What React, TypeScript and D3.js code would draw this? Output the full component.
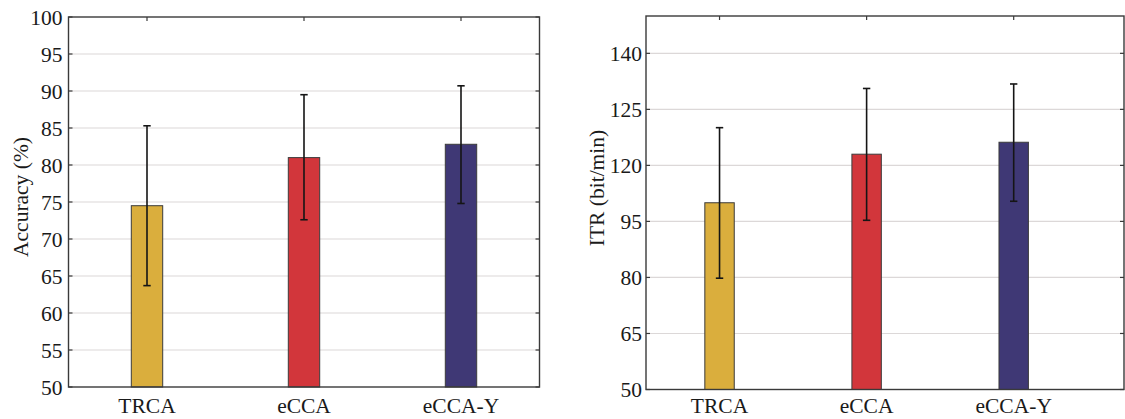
import React, { useEffect, useRef } from 'react';
import * as d3 from 'd3';

const categories = ['TRCA', 'eCCA', 'eCCA-Y'];
const barColors = ['#DAAE3D', '#D2363B', '#3F3875'];

// left panel: accuracy (%)
const accMean = [74.5, 81.0, 82.8];
const accUpper = [85.3, 89.5, 90.7];
const accLower = [63.7, 72.6, 74.8];
const accTicks = [50, 55, 60, 65, 70, 75, 80, 85, 90, 95, 100];
const accTickLabels = ['50', '55', '60', '65', '70', '75', '80', '85', '90', '95', '100'];

// right panel: ITR (bit/min) -- tick labels kept as printed in the figure
const itrMean = [100.0, 113.0, 116.2];
const itrUpper = [120.1, 130.6, 131.8];
const itrLower = [79.8, 95.3, 100.4];
const itrTicks = [50, 65, 80, 95, 110, 125, 140];
const itrTickLabels = ['50', '65', '80', '95', '120', '125', '140'];

const W = 1125;
const H = 419;
const FONT = '"Liberation Serif", "DejaVu Serif", serif';
const AXIS = '#3a3a3a';
const GRID = '#dcd8d8';

interface Panel {
  left: number;
  right: number;
  top: number;
  bottom: number;
  xMax: number;
  yDomain: [number, number];
  ticks: number[];
  tickLabels: string[];
  mean: number[];
  upper: number[];
  lower: number[];
  label: string;
  labelX: number;
  labelY: number;
  tickGap: number;
}

const panels: Panel[] = [
  {
    left: 68.5,
    right: 539.5,
    top: 17,
    bottom: 387,
    xMax: 3.5,
    yDomain: [50, 100],
    ticks: accTicks,
    tickLabels: accTickLabels,
    mean: accMean,
    upper: accUpper,
    lower: accLower,
    label: 'Accuracy (%)',
    labelX: 20,
    labelY: 197,
    tickGap: 6,
  },
  {
    left: 646,
    right: 1124,
    top: 16,
    bottom: 389.5,
    xMax: 3.75,
    yDomain: [50, 150],
    ticks: itrTicks,
    tickLabels: itrTickLabels,
    mean: itrMean,
    upper: itrUpper,
    lower: itrLower,
    label: 'ITR (bit/min)',
    labelX: 596,
    labelY: 188,
    tickGap: 4,
  },
];

const drawPanel = (svg: d3.Selection<SVGSVGElement, unknown, null, undefined>, p: Panel) => {
  const x = d3.scaleLinear().domain([0.5, p.xMax]).range([p.left, p.right]);
  const y = d3.scaleLinear().domain(p.yDomain).range([p.bottom, p.top]);
  const g = svg.append('g');
  const idx = categories.map((_, i) => i);

  // grid
  g.append('g')
    .selectAll('line')
    .data(p.ticks.filter((t) => t > p.yDomain[0] && t < p.yDomain[1]))
    .join('line')
    .attr('x1', p.left)
    .attr('x2', p.right)
    .attr('y1', (d) => y(d))
    .attr('y2', (d) => y(d))
    .attr('stroke', GRID)
    .attr('stroke-width', 1.2);

  // bars
  const bw = x(1.2) - x(1);
  g.append('g')
    .selectAll('rect')
    .data(idx)
    .join('rect')
    .attr('x', (i) => x(i + 1) - bw / 2)
    .attr('y', (i) => y(p.mean[i]))
    .attr('width', bw)
    .attr('height', (i) => y(p.yDomain[0]) - y(p.mean[i]))
    .attr('fill', (i) => barColors[i])
    .attr('stroke', '#3b3b3b')
    .attr('stroke-width', 1);

  // error bars
  const eb = g.append('g').attr('stroke', '#151515').attr('stroke-width', 1.6);
  eb.selectAll('line.v')
    .data(idx)
    .join('line')
    .attr('class', 'v')
    .attr('x1', (i) => x(i + 1))
    .attr('x2', (i) => x(i + 1))
    .attr('y1', (i) => y(p.upper[i]))
    .attr('y2', (i) => y(p.lower[i]));
  const cap = 3.7;
  [p.upper, p.lower].forEach((vals, k) => {
    eb.selectAll(`line.c${k}`)
      .data(idx)
      .join('line')
      .attr('class', `c${k}`)
      .attr('x1', (i) => x(i + 1) - cap)
      .attr('x2', (i) => x(i + 1) + cap)
      .attr('y1', (i) => y(vals[i]))
      .attr('y2', (i) => y(vals[i]));
  });

  // frame
  g.append('rect')
    .attr('x', p.left)
    .attr('y', p.top)
    .attr('width', p.right - p.left)
    .attr('height', p.bottom - p.top)
    .attr('fill', 'none')
    .attr('stroke', AXIS)
    .attr('stroke-width', 1.4);

  // inward ticks
  const tk = g.append('g').attr('stroke', AXIS).attr('stroke-width', 1.2);
  tk.selectAll('line.yl')
    .data(p.ticks)
    .join('line')
    .attr('class', 'yl')
    .attr('x1', p.left)
    .attr('x2', p.left + 4)
    .attr('y1', (d) => y(d))
    .attr('y2', (d) => y(d));
  tk.selectAll('line.yr')
    .data(p.ticks)
    .join('line')
    .attr('class', 'yr')
    .attr('x1', p.right)
    .attr('x2', p.right - 4)
    .attr('y1', (d) => y(d))
    .attr('y2', (d) => y(d));
  tk.selectAll('line.xt')
    .data(idx)
    .join('line')
    .attr('class', 'xt')
    .attr('x1', (i) => x(i + 1))
    .attr('x2', (i) => x(i + 1))
    .attr('y1', p.top)
    .attr('y2', p.top + 4);

  // tick labels
  g.append('g')
    .selectAll('text')
    .data(p.ticks)
    .join('text')
    .attr('x', p.left - p.tickGap)
    .attr('y', (d) => y(d))
    .attr('dy', '0.35em')
    .attr('text-anchor', 'end')
    .text((d, i) => p.tickLabels[i]);

  g.append('g')
    .selectAll('text')
    .data(categories)
    .join('text')
    .attr('x', (d, i) => x(i + 1))
    .attr('y', 413)
    .attr('text-anchor', 'middle')
    .text((d) => d);

  g.append('text')
    .attr('transform', `translate(${p.labelX},${p.labelY}) rotate(-90)`)
    .attr('dy', '0.35em')
    .attr('text-anchor', 'middle')
    .text(p.label);
};

const App = () => {
  const ref = useRef<SVGSVGElement>(null);

  useEffect(() => {
    if (!ref.current) {
      return;
    }
    const svg = d3.select(ref.current);
    svg.selectAll('*').remove();
    svg.append('rect').attr('width', W).attr('height', H).attr('fill', '#ffffff');
    panels.forEach((p) => drawPanel(svg, p));
  }, []);

  return (
    <svg
      ref={ref}
      width={W}
      height={H}
      style={{ position: 'absolute', left: 0, top: 0 }}
      fontFamily={FONT}
      fontSize={21.5}
      fill="#1a1a1a"
    />
  );
};

export default App;
